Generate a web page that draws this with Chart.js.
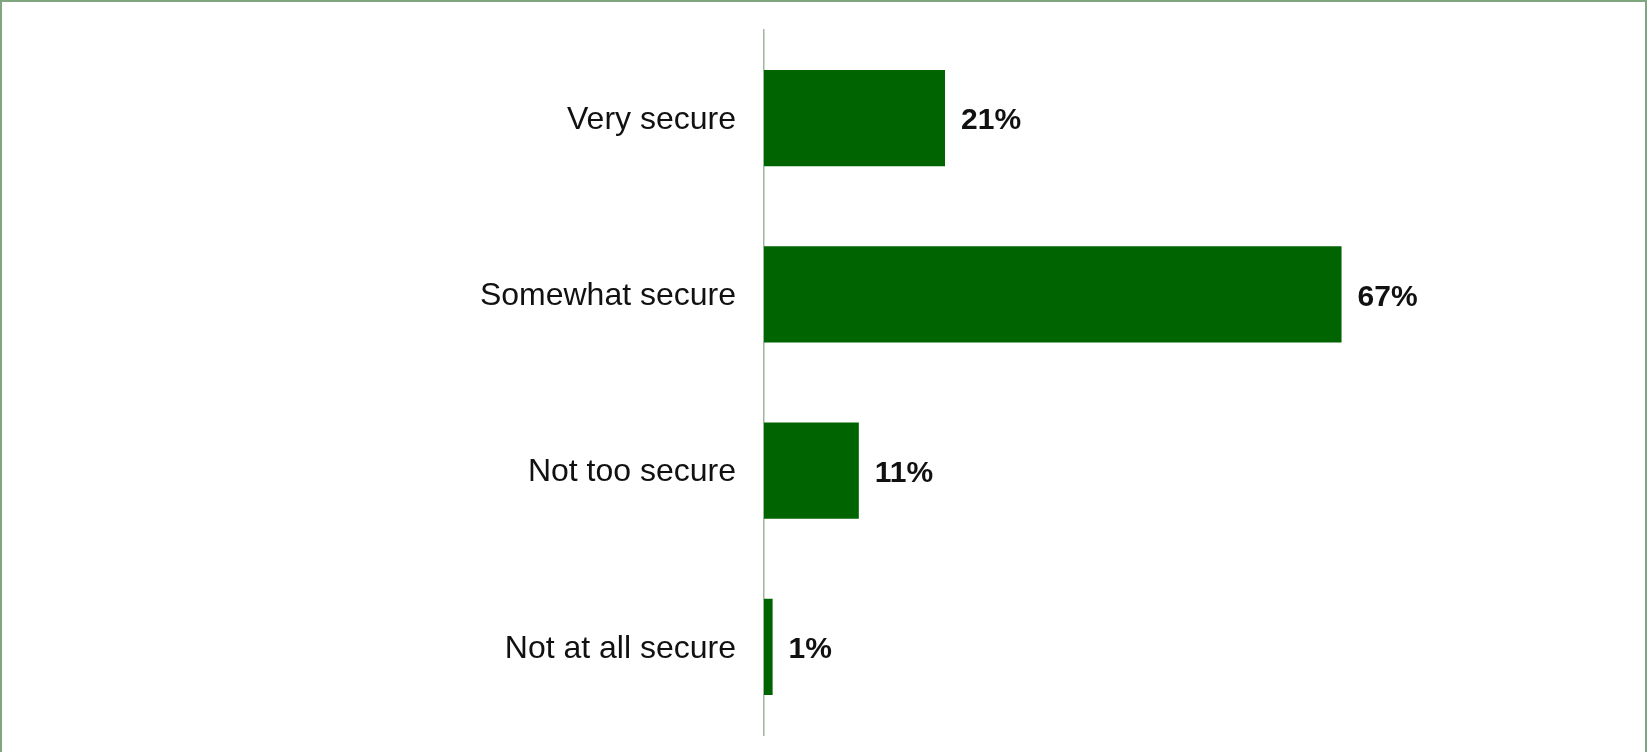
<!DOCTYPE html>
<html>
<head>
<meta charset="utf-8">
<script src="https://cdn.jsdelivr.net/npm/chart.js@4/dist/chart.umd.min.js"></script>
<style>
  html, body { margin: 0; padding: 0; background: #ffffff; }
  #wrap { position: relative; width: 1647px; height: 752px; box-sizing: border-box;
          border-left: 2px solid #7fa67f; border-top: 2px solid #7fa67f; border-right: 2px solid #7fa67f; }
  #c { position: absolute; left: -2px; top: -2px; }
</style>
</head>
<body>
<div id="wrap"><canvas id="c" width="1647" height="752"></canvas></div>
<script>
const categories = ["Very secure", "Somewhat secure", "Not too secure", "Not at all secure"];
const values = [21, 67, 11, 1];
const valueLabels = ["21%", "67%", "11%", "1%"];

const barLabelPlugin = {
  id: 'barLabels',
  afterDatasetsDraw(chart) {
    const ctx = chart.ctx;
    const meta = chart.getDatasetMeta(0);
    ctx.save();
    ctx.font = 'bold 30px "Liberation Sans", Arial, sans-serif';
    ctx.fillStyle = '#111111';
    ctx.textAlign = 'left';
    ctx.textBaseline = 'middle';
    meta.data.forEach((bar, i) => {
      ctx.fillText(valueLabels[i], bar.x + 16, bar.y + 3);
    });
    ctx.restore();
  }
};

new Chart(document.getElementById('c'), {
  type: 'bar',
  data: {
    labels: categories,
    datasets: [{
      data: values,
      backgroundColor: '#006400',
      borderWidth: 0,
      categoryPercentage: 1.0,
      barPercentage: 0.545
    }]
  },
  options: {
    indexAxis: 'y',
    responsive: false,
    animation: false,
    devicePixelRatio: 1,
    layout: { padding: { left: 0, top: 30, right: 21, bottom: 17 } },
    plugins: { legend: { display: false }, tooltip: { enabled: false } },
    scales: {
      x: { display: false, min: 0, max: 100 },
      y: {
        afterFit(scale) { scale.width = 764; scale.paddingTop = 0; scale.paddingBottom = 0; },
        grid: { display: false, drawTicks: false },
        border: { display: true, color: '#9fb59f', width: 1.5 },
        ticks: {
          color: '#111111',
          padding: 28,
          labelOffset: 2,
          font: { family: '"Liberation Sans", Arial, sans-serif', size: 32 }
        }
      }
    }
  },
  plugins: [barLabelPlugin]
});
</script>
</body>
</html>
